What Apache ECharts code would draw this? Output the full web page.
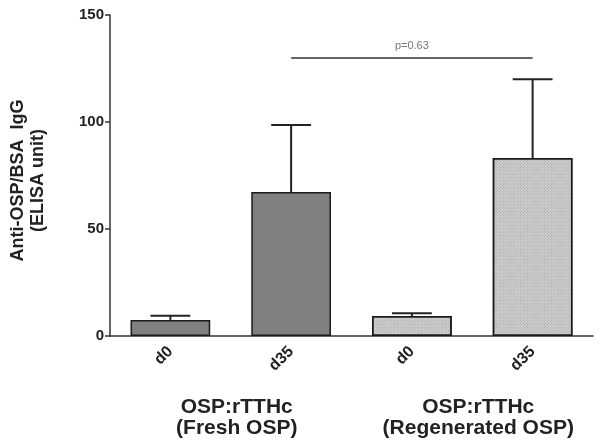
<!DOCTYPE html>
<html><head><meta charset="utf-8">
<script src="https://cdn.jsdelivr.net/npm/echarts@6/dist/echarts.min.js"></script>
<style>html,body{margin:0;padding:0;background:#fff}#c{width:604px;height:447px}</style>
</head><body><div id="c"></div>
<script>
var categories = ['d0', 'd35', 'd0', 'd35'];
var groups = ['OSP:rTTHc\n(Fresh OSP)', 'OSP:rTTHc\n(Regenerated OSP)'];
var means = [7.5, 67.3, 9.3, 83.2];
var sems = [2.0, 31.3, 1.3, 36.8];
var groupOf = [0, 0, 1, 1];
var yTicks = [0, 50, 100, 150];
var sigPair = [1, 3];
var sigY = 130;
var sigText = 'p=0.63';

var FONT = '"Liberation Sans", Arial, sans-serif';
var chart = echarts.init(document.getElementById('c'));
var fills = [
  { color: '#808080' },
  { color: '#d0d0d0', decal: { symbol: 'rect', symbolSize: 1, dashArrayX: [[1, 1]], dashArrayY: [1, 1], rotation: Math.PI / 4, color: 'rgba(110,110,110,0.45)' } }
];
var barData = means.map(function (v, i) {
  var f = fills[groupOf[i]];
  return { value: v, itemStyle: { color: f.color, decal: f.decal || null, borderColor: '#1a1a1a', borderWidth: 1.5 } };
});
var errData = means.map(function (v, i) { return [i, v, v + sems[i]]; });

chart.setOption({
  animation: false,
  aria: { enabled: false, decal: { show: true } },
  grid: { left: 110, right: 11, top: 15, bottom: 111, containLabel: false },
  xAxis: [{
    type: 'category', data: categories, position: 'bottom',
    axisLine: { lineStyle: { color: '#333', width: 1.5 } },
    axisTick: { alignWithLabel: true, length: 5, lineStyle: { color: '#333', width: 1.5 } },
    axisLabel: { interval: 0, rotate: 45, margin: 13, fontSize: 16, fontWeight: 'bold', color: '#222', fontFamily: FONT }
  }, {
    type: 'category', data: groups, position: 'bottom', offset: 55,
    axisLine: { show: false }, axisTick: { show: false },
    axisLabel: { interval: 0, hideOverlap: false, margin: 6, fontSize: 21, lineHeight: 21, fontWeight: 'bold', color: '#222', fontFamily: FONT, align: 'center', padding: [0, 0, 0, 12] }
  }],
  yAxis: {
    type: 'value', min: yTicks[0], max: yTicks[yTicks.length - 1], interval: 50,
    name: 'Anti-OSP/BSA  IgG\n(ELISA unit)', nameLocation: 'middle', nameRotate: 90, nameGap: 62,
    nameTextStyle: { fontSize: 18, fontWeight: 'bold', color: '#222', fontFamily: FONT, lineHeight: 20, align: 'center', padding: [0, 10, 0, 0] },
    axisLine: { show: true, lineStyle: { color: '#333', width: 1.5 } },
    axisTick: { show: true, length: 5, lineStyle: { color: '#333', width: 1.5 } },
    splitLine: { show: false },
    axisLabel: { margin: 6, fontSize: 15, fontWeight: 'bold', color: '#222', fontFamily: FONT }
  },
  series: [{
    type: 'bar', data: barData, barWidth: '66%', xAxisIndex: 0, z: 2,
    markLine: {
      symbol: 'none', silent: true,
      lineStyle: { color: '#333', width: 1.5, type: 'solid' },
      label: { show: true, position: 'insideMiddleTop', formatter: sigText, color: '#777', fontSize: 11, fontFamily: FONT, distance: 6 },
      data: [[{ coord: [sigPair[0], sigY] }, { coord: [sigPair[1], sigY] }]]
    }
  }, {
    type: 'custom', xAxisIndex: 0, z: 3, data: errData,
    renderItem: function (params, api) {
      var x = api.value(0);
      var p0 = api.coord([x, api.value(1)]);
      var p1 = api.coord([x, api.value(2)]);
      var half = api.size([1, 0])[0] * 0.165;
      var st = { stroke: '#222', lineWidth: 2 };
      return { type: 'group', children: [
        { type: 'line', shape: { x1: p0[0], y1: p0[1], x2: p1[0], y2: p1[1] }, style: st },
        { type: 'line', shape: { x1: p1[0] - half, y1: p1[1], x2: p1[0] + half, y2: p1[1] }, style: st }
      ] };
    }
  }]
});
</script></body></html>
